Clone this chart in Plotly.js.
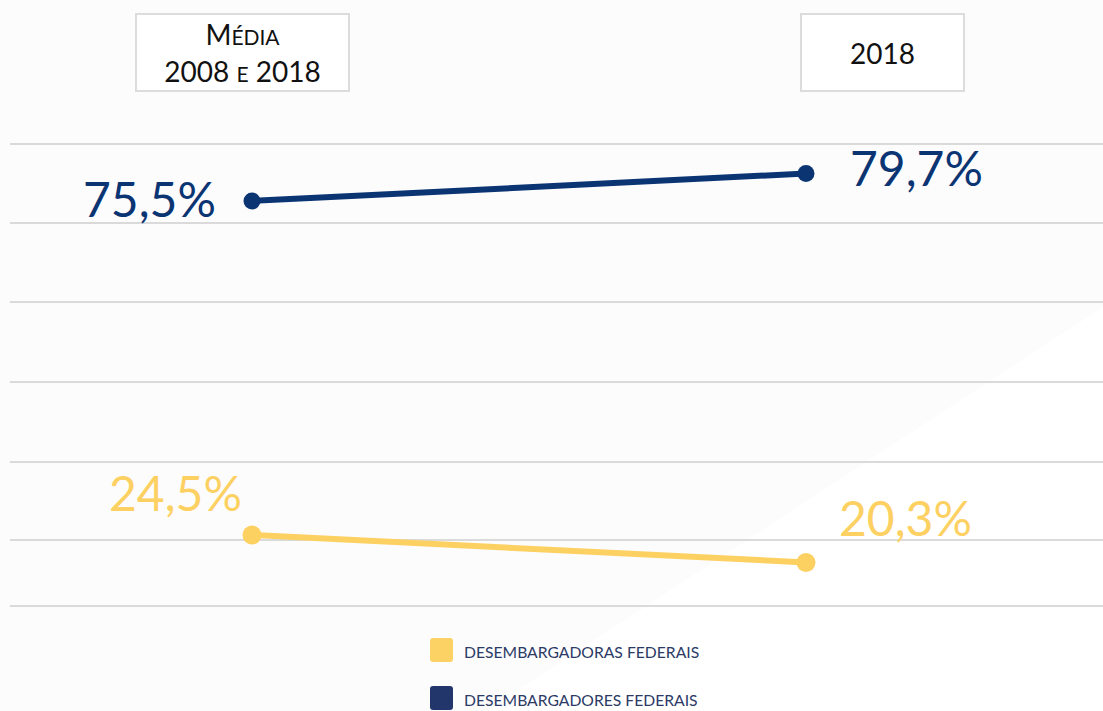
<!DOCTYPE html>
<html>
<head>
<meta charset="utf-8">
<script src="https://cdn.plot.ly/plotly-3.0.1.min.js"></script>
<style>
html,body{margin:0;padding:0;background:#fcfcfd;}
#chart{width:1103px;height:711px;}
</style>
</head>
<body>
<div id="chart"></div>
<script>
// ---- data ----
const categories = ["Média<br>2008 e 2018", "2018"];
const seriesNames = ["Desembargadoras Federais", "Desembargadores Federais"];
const valuesFemale = [24.5, 20.3];
const valuesMale = [75.5, 79.7];
const gridValues = [84.2, 72.2, 60.0, 47.9, 35.7, 23.7, 13.7];

// ---- styles ----
const colorFemale = "#fdd062";
const colorMale = "#0b3473";
const legendFemale = "#fdd265";
const legendMale = "#22366b";
const bigFont = "Lato";

function fmt(v){ return v.toFixed(1).replace(".", ",") + "%"; }
function smallCaps(s, big, small){
  return s.split("<br>").map(function(line){
    let out = "", buf = "", isLower = null;
    function flush(){
      if(!buf) return;
      if(isLower) out += '<span style="font-size:' + small + 'px">' + buf.toUpperCase() + '</span>';
      else out += '<span style="font-size:' + big + 'px">' + buf + '</span>';
      buf = "";
    }
    for (const ch of line){
      const low = ch !== ch.toUpperCase();
      if (isLower !== null && low !== isLower) flush();
      isLower = low; buf += ch;
    }
    flush();
    return out;
  }).join("<br>");
}

const xIdx = categories.map((c,i)=>i);

const traces = [
  {x: xIdx, y: valuesMale, mode: "lines+markers", name: seriesNames[1],
   line: {color: colorMale, width: 6}, marker: {color: colorMale, size: 17},
   showlegend: false, hoverinfo: "skip"},
  {x: xIdx, y: valuesFemale, mode: "lines+markers", name: seriesNames[0],
   line: {color: colorFemale, width: 6}, marker: {color: colorFemale, size: 19},
   showlegend: false, hoverinfo: "skip"}
];

// label offsets (style only)
const maleShift = [{xa:"right", xs:-34, ys:2}, {xa:"left", xs:42, ys:6}];
const femaleShift = [{xa:"right", xs:-8, ys:42}, {xa:"left", xs:31, ys:45}];

const annotations = [];
valuesMale.forEach((v,i)=>{
  annotations.push({x: xIdx[i], y: v, xref:"x", yref:"y", text: fmt(v), showarrow:false,
    xanchor: maleShift[i].xa, yanchor:"middle", xshift: maleShift[i].xs, yshift: maleShift[i].ys,
    font:{family: bigFont, size: 48, color: colorMale, weight: 400}});
});
valuesFemale.forEach((v,i)=>{
  annotations.push({x: xIdx[i], y: v, xref:"x", yref:"y", text: fmt(v), showarrow:false,
    xanchor: femaleShift[i].xa, yanchor:"middle", xshift: femaleShift[i].xs, yshift: femaleShift[i].ys,
    font:{family: bigFont, size: 48, color: colorFemale, weight: 400}});
});

// header boxes
const headerBoxes = [{cx: 242.5, w: 211}, {cx: 882.5, w: 161}];
categories.forEach((c,i)=>{
  annotations.push({xref:"paper", yref:"paper", x: (headerBoxes[i].cx-10)/1093, y: (620-52.5)/520,
    xanchor:"center", yanchor:"middle", showarrow:false,
    text: smallCaps(c, 28, 21), width: headerBoxes[i].w, height: 75, align:"center", valign:"middle",
    bordercolor:"#dcdcdc", borderwidth: 2, borderpad: 0, bgcolor:"#ffffff",
    font:{family:"Lato", size: 28, color:"#111111", weight: 400}});
});

// background diagonal + legend (manual)
const shapes = [];
shapes.push({type:"path", xref:"paper", yref:"paper", layer:"below",
  path: "M " + ((1103-10)/1093) + " " + ((620-307)/520) + " L " + ((1103-10)/1093) + " " + ((620-711)/520) +
        " L " + ((486-10)/1093) + " " + ((620-711)/520) + " Z",
  fillcolor:"#ffffff", line:{width:0}});
const legendRows = [
  {name: seriesNames[0], color: legendFemale, cy: 650},
  {name: seriesNames[1], color: legendMale, cy: 698}
];
legendRows.forEach(r=>{
  const x0 = 430, x1 = 453, y0 = r.cy-12, y1 = r.cy+12, rr = 3;
  const px = p => (p-10)/1093, py = p => (620-p)/520;
  shapes.push({type:"path", xref:"paper", yref:"paper",
    path: `M ${px(x0+rr)} ${py(y0)} L ${px(x1-rr)} ${py(y0)} Q ${px(x1)} ${py(y0)} ${px(x1)} ${py(y0+rr)} L ${px(x1)} ${py(y1-rr)} Q ${px(x1)} ${py(y1)} ${px(x1-rr)} ${py(y1)} L ${px(x0+rr)} ${py(y1)} Q ${px(x0)} ${py(y1)} ${px(x0)} ${py(y1-rr)} L ${px(x0)} ${py(y0+rr)} Q ${px(x0)} ${py(y0)} ${px(x0+rr)} ${py(y0)} Z`,
    fillcolor: r.color, line:{width:0}});
  annotations.push({xref:"paper", yref:"paper", x: px(462), y: py(r.cy+2), xanchor:"left", yanchor:"middle",
    showarrow:false, text: r.name.toUpperCase(), font:{family:"Lato", size:15.7, color:"#2b3a66"}});
});

const layout = {
  width: 1103, height: 711,
  margin: {l: 10, r: 0, t: 100, b: 91},
  paper_bgcolor: "#fcfcfd", plot_bgcolor: "rgba(0,0,0,0)",
  showlegend: false,
  xaxis: {range: [-0.4368, 1.5361], showgrid:false, zeroline:false, showticklabels:false, fixedrange:true},
  yaxis: {range: [11.51, 90.92], tickvals: gridValues, showticklabels:false, gridcolor:"#dadada", gridwidth:2,
          zeroline:false, fixedrange:true},
  annotations: annotations,
  shapes: shapes
};

Plotly.newPlot("chart", traces, layout, {displayModeBar:false, staticPlot:true});
</script>
</body>
</html>
